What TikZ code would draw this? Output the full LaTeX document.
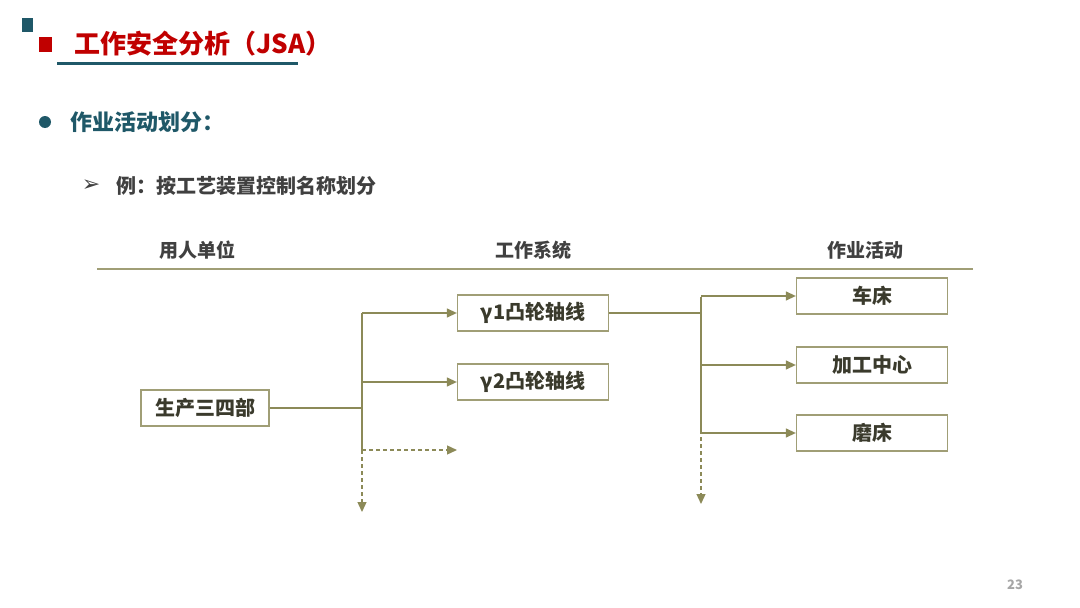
\documentclass[tikz,border=0pt]{standalone}
\usepackage{fontspec}
\setmainfont{Noto Sans CJK SC}
\newfontfamily\dingfont{DejaVu Sans}
\usetikzlibrary{arrows.meta}
\definecolor{headteal}{RGB}{31,88,104}
\definecolor{headred}{RGB}{192,0,0}
\definecolor{linecol}{RGB}{140,138,88}
\definecolor{boxcol}{RGB}{160,158,118}
\definecolor{boxtext}{RGB}{58,58,44}
\definecolor{greytext}{RGB}{64,64,64}

\begin{document}
\begin{tikzpicture}[x=1pt,y=-1pt,
    box/.style={draw=boxcol,line width=1.3pt,minimum width=151pt,minimum height=36pt,inner sep=0pt,
        text=boxtext,font=\bfseries\fontsize{20}{20}\selectfont},
    link/.style={draw=linecol,line width=1.3pt},
    tip/.style={-{Triangle[length=10pt,width=9pt]}},
    gap/.style={dash pattern=on 4pt off 3pt},
    colhead/.style={text=greytext,font=\bfseries\fontsize{19}{19}\selectfont}]
    \useasboundingbox (0,0) rectangle (1080,608);
    \fill[headteal] (22,18) rectangle (33,32);
    \fill[headred] (39,37) rectangle (52,52);
    \node[anchor=west,text=headred,font=\bfseries\fontsize{26}{26}\selectfont,inner sep=0pt] (title) at (74,44) {工作安全分析（JSA）};
    \draw[headteal,line width=3pt] (57,63) -- (298,63);
    \fill[headteal] (45,122) circle (6);
    \node[anchor=west,text=headteal,font=\bfseries\fontsize{22}{22}\selectfont,inner sep=0pt] (topic) at (70,122) {作业活动划分：};
    \node[text=greytext,font=\dingfont\bfseries\fontsize{22}{22}\selectfont,inner sep=0pt] (mark) at (91,186) {➢};
    \node[anchor=west,text=greytext,font=\bfseries\fontsize{20}{20}\selectfont,inner sep=0pt] (example) at (116,186) {例：按工艺装置控制名称划分};
    \node[colhead] (h1) at (197,250) {用人单位};
    \node[colhead] (h2) at (533,250) {工作系统};
    \node[colhead] (h3) at (865,250) {作业活动};
    \draw[boxcol,line width=1.5pt] (97,269) -- (973,269);
    \node[box,minimum width=128pt] (dept) at (205,408) {生产三四部};
    \node[box] (sys1) at (533,313) {γ1凸轮轴线};
    \node[box] (sys2) at (533,382) {γ2凸轮轴线};
    \foreach \n/\y[count=\i] in {车床/296,加工中心/365,磨床/433}
        \node[box] (act\i) at (872,\y) {\n};
    \coordinate (ltop) at (362,313);
    \coordinate (lbot) at (362,450);
    \coordinate (lend) at (362,512);
    \coordinate (lfree) at (457,450);
    \coordinate (rtop) at (701,297);
    \coordinate (rbot) at (701,430);
    \coordinate (rend) at (701,504);
    \draw[link] (dept.east) -- (dept.east-|ltop);
    \draw[link] (ltop) -- (lbot);
    \draw[link,tip] (ltop) -- (sys1.west);
    \draw[link,tip] (sys2.west-|ltop) -- (sys2.west);
    \draw[link,tip,gap] (lbot) -- (lfree);
    \draw[link,tip,gap] (lbot) -- (lend);
    \draw[link] (sys1.east) -- (sys1.east-|rtop);
    \draw[link] (rtop) -- (rbot);
    \draw[link,tip,gap] (rbot) -- (rend);
    \foreach \i in {1,2,3}
        \draw[link,tip] (act\i.west-|rtop) -- (act\i.west);
    \node[text=gray!70,font=\bfseries\fontsize{13}{13}\selectfont] (page) at (1015,585) {23};
\end{tikzpicture}
\end{document}
